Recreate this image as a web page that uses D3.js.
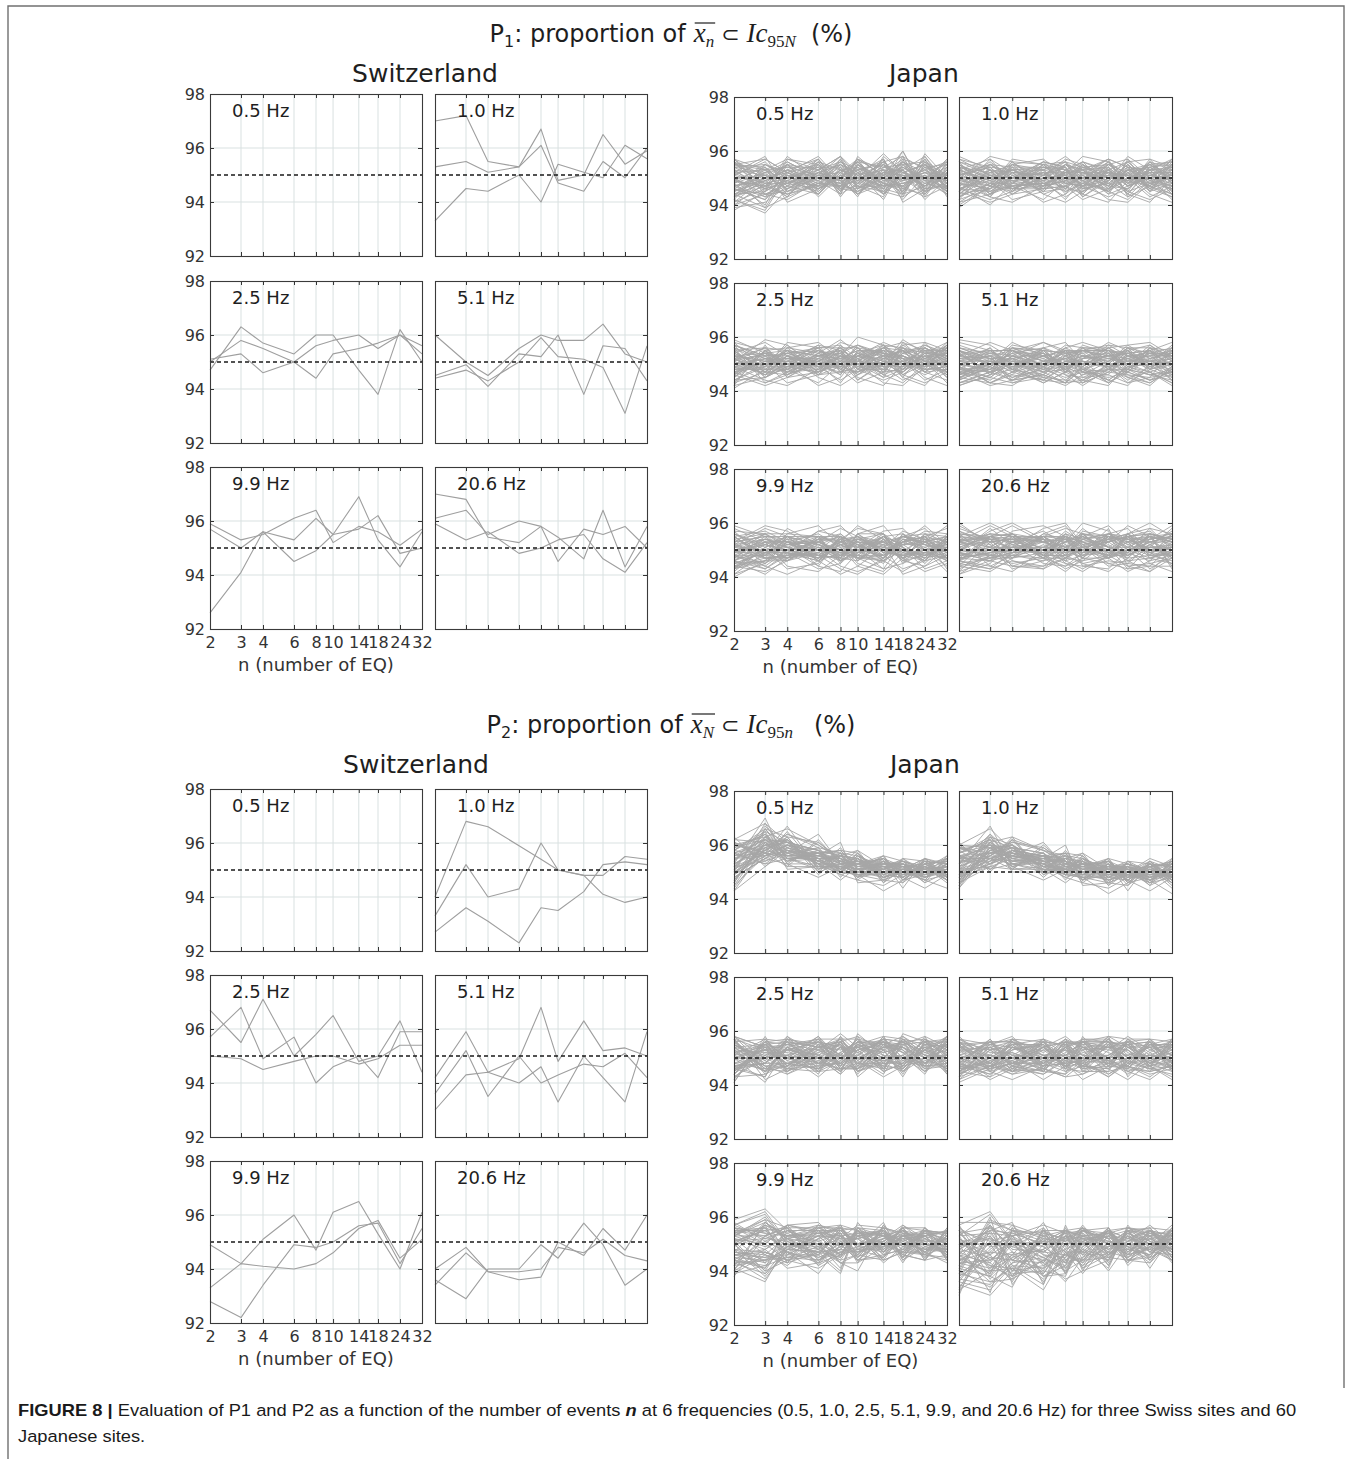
<!DOCTYPE html>
<html>
<head>
<meta charset="utf-8">
<script src="https://cdn.jsdelivr.net/npm/d3@7"></script>
<style>
  body { margin: 0; background: #fff; }
  svg { display: block; }
</style>
</head>
<body>
<svg id="fig" width="1356" height="1459"></svg>
<script>
// ---- axis values ----
const nTicks = [2, 3, 4, 6, 8, 10, 14, 18, 24, 32];
const yTicks = [92, 94, 96, 98];
const freqLabels = ["0.5 Hz", "1.0 Hz", "2.5 Hz", "5.1 Hz", "9.9 Hz", "20.6 Hz"];
const targetLevel = 95;

// ---- Swiss sites (3 sites), percent, one value per n ----
const ch_p1_05 = [];
const ch_p1_10 = [
  [97.0, 97.2, 95.5, 95.3, 96.7, 94.8, 95.0, 96.5, 95.4, 95.9],
  [95.3, 95.5, 95.1, 95.3, 96.1, 94.7, 94.4, 95.5, 94.9, 96.0],
  [93.3, 94.5, 94.4, 95.0, 94.0, 95.4, 95.1, 94.9, 96.1, 95.6]
];
const ch_p1_25 = [
  [94.7, 96.3, 95.7, 95.3, 96.0, 96.0, 94.7, 93.8, 96.2, 95.0],
  [95.0, 95.8, 95.5, 95.0, 95.6, 95.8, 96.0, 95.5, 96.0, 95.6],
  [95.1, 95.3, 94.6, 95.0, 94.4, 95.3, 95.5, 95.7, 96.0, 95.3]
];
const ch_p1_51 = [
  [96.0, 95.0, 94.5, 95.5, 96.0, 95.8, 95.8, 96.4, 95.3, 95.0],
  [94.5, 94.9, 94.1, 95.3, 95.2, 96.0, 93.8, 95.6, 95.5, 94.3],
  [94.4, 94.7, 94.3, 95.0, 95.9, 95.2, 95.1, 94.8, 93.1, 95.6]
];
const ch_p1_99 = [
  [95.9, 95.3, 95.5, 96.1, 96.4, 95.2, 95.8, 95.6, 95.1, 95.7],
  [95.7, 95.0, 95.6, 95.3, 96.1, 95.5, 96.9, 95.3, 94.3, 95.6],
  [92.6, 94.1, 95.6, 94.5, 94.9, 95.5, 95.7, 96.2, 94.8, 95.0]
];
const ch_p1_206 = [
  [97.0, 96.8, 95.4, 95.2, 95.8, 95.4, 94.6, 96.4, 94.3, 95.8],
  [96.1, 96.4, 95.5, 96.0, 95.8, 94.5, 95.7, 95.5, 95.8, 95.0],
  [95.9, 95.3, 95.6, 94.8, 95.0, 95.3, 95.5, 94.6, 94.1, 95.2]
];
const ch_p2_05 = [];
const ch_p2_10 = [
  [94.0, 96.8, 96.6, 95.9, 95.4, 95.0, 94.8, 94.1, 93.8, 94.0],
  [93.3, 95.2, 94.0, 94.3, 96.0, 95.0, 94.8, 94.8, 95.5, 95.4],
  [92.7, 93.6, 93.1, 92.3, 93.6, 93.5, 94.2, 95.2, 95.3, 95.2]
];
const ch_p2_25 = [
  [96.7, 95.5, 97.1, 95.0, 95.8, 96.5, 94.8, 95.0, 96.3, 94.4],
  [95.7, 96.8, 94.9, 95.7, 94.0, 94.6, 95.0, 94.2, 95.9, 95.9],
  [95.0, 94.9, 94.5, 94.8, 95.0, 95.0, 94.7, 94.9, 95.4, 95.4]
];
const ch_p2_51 = [
  [94.2, 95.9, 94.4, 94.9, 96.8, 94.8, 96.3, 95.2, 95.3, 95.0],
  [93.6, 95.2, 93.5, 95.0, 94.0, 94.3, 94.7, 94.6, 95.1, 94.2],
  [93.0, 94.3, 94.4, 94.0, 94.6, 93.3, 95.0, 94.2, 93.3, 95.9]
];
const ch_p2_99 = [
  [94.9, 94.2, 95.1, 96.0, 94.7, 96.1, 96.5, 95.3, 94.0, 96.1],
  [93.3, 94.2, 94.1, 94.0, 94.2, 94.6, 95.5, 95.8, 94.4, 95.1],
  [92.8, 92.2, 93.4, 94.9, 94.8, 95.0, 95.6, 95.7, 94.2, 95.5]
];
const ch_p2_206 = [
  [94.0, 94.8, 93.9, 93.6, 93.7, 95.0, 94.5, 95.5, 94.7, 96.0],
  [93.6, 92.9, 94.0, 94.0, 94.9, 94.4, 95.7, 94.9, 93.4, 94.0],
  [93.4, 94.6, 93.9, 93.9, 94.0, 94.8, 94.6, 95.1, 94.5, 94.3]
];

// ---- Japanese sites (60 sites); each row is one site, values in tenths of a percent ----
const jp_p1_05 = [
"957 953 948 951 958 946 955 949 952 947","944 939 952 947 950 956 948 960 945 953","951 948 943 955 946 952 957 944 959 950",
"938 945 950 944 953 949 945 952 947 955","955 957 952 958 949 944 951 956 950 946","947 950 955 949 944 958 950 947 954 951",
"942 937 946 952 955 947 943 955 949 944","953 946 958 950 947 953 956 941 946 957","949 954 941 946 951 945 949 953 958 948",
"946 942 949 956 943 951 947 958 944 952","956 951 955 945 952 957 944 950 953 949","940 944 948 953 958 950 953 946 951 945",
"952 958 945 948 950 943 958 952 947 954","945 949 953 957 946 955 946 944 955 950","950 943 951 944 954 948 952 957 943 947",
"943 947 956 950 948 954 949 951 950 956","954 952 944 947 957 946 955 945 956 943","948 955 950 954 945 952 942 954 948 951",
"939 941 947 951 952 949 951 960 945 948","957 949 953 946 950 956 947 948 952 955","946 944 942 949 955 951 953 943 957 946",
"951 956 948 952 946 947 956 950 944 952","944 948 955 943 951 953 948 956 949 957","953 945 950 957 948 945 950 947 954 949",
"947 951 946 950 956 950 944 953 942 950","942 938 951 946 950 957 951 949 951 945","955 953 957 953 944 948 957 944 947 953",
"949 946 944 948 953 954 946 955 956 948","941 950 952 955 947 946 952 951 950 944","956 947 949 947 955 952 948 946 944 956",
"945 952 954 951 949 944 954 958 953 947","950 944 947 944 952 956 945 943 948 951","943 949 943 956 946 950 959 952 955 946",
"954 955 951 949 957 947 947 947 943 954","948 940 955 953 945 955 950 954 950 949","952 946 948 946 951 949 956 949 957 945",
"946 953 945 950 948 953 944 956 946 952","940 948 950 954 954 946 951 942 951 948","955 950 953 947 947 957 953 951 947 955",
"947 943 946 952 950 948 946 957 954 944","951 957 952 948 956 951 955 948 949 950","944 945 957 955 944 955 949 953 945 953",
"953 951 949 945 953 944 952 945 958 946","949 947 944 951 949 950 947 950 952 951","942 954 947 957 945 956 954 955 946 947",
"957 946 955 944 952 947 945 952 950 954","945 950 950 953 958 952 950 944 955 948","950 939 943 948 947 949 956 958 944 952",
"948 952 956 950 950 954 948 947 951 945","954 948 948 955 946 945 953 953 947 950","943 955 952 946 953 951 946 949 953 956",
"956 944 945 952 949 957 951 954 949 947","947 949 951 949 954 948 957 946 956 951","952 953 954 954 945 952 944 951 945 953",
"941 946 949 947 951 946 950 956 952 949","950 951 946 953 956 953 955 950 948 946","946 942 953 950 948 944 948 945 954 955",
"955 954 947 956 953 950 952 953 946 948","949 947 952 948 947 955 947 948 950 952","944 950 950 952 955 949 954 952 955 949"
];
const jp_p1_10 = [
"957 954 947 942 949 956 953 944 941 950","942 946 955 957 951 944 941 949 956 953","950 958 956 948 943 947 955 957 950 942",
"945 941 944 951 957 955 948 943 947 956","955 949 942 945 952 958 956 951 944 941","941 944 950 956 954 947 943 946 953 957",
"953 957 952 944 941 945 951 956 957 948","948 943 941 947 953 956 952 945 942 946","956 951 946 950 955 949 942 941 948 955",
"943 948 957 955 947 942 946 953 955 951","951 955 949 941 944 952 957 954 946 943","946 942 945 953 958 953 945 942 949 957",
"958 953 944 946 950 943 949 958 953 944","940 947 953 949 942 950 956 950 943 947","954 944 948 955 956 951 944 947 957 954",
"945 957 948 946 955 950 952 947 953 953","953 949 956 955 948 947 949 955 948 944","939 947 945 949 952 953 957 943 951 950",
"948 953 950 952 945 948 945 952 946 955","955 945 947 948 951 955 950 949 955 949","946 950 953 954 954 944 953 956 949 946",
"951 954 946 946 947 951 947 946 952 952","944 946 952 951 956 946 952 951 947 957","957 951 949 947 949 952 948 953 954 947",
"950 943 955 953 944 949 956 948 950 951","943 948 944 950 951 954 944 954 945 954","952 955 951 945 953 947 951 945 956 948",
"947 940 948 956 948 950 955 952 948 950","954 952 953 949 955 953 946 950 953 945","941 948 946 952 946 945 953 947 951 953",
"949 956 950 947 952 952 949 955 946 949","956 944 954 954 950 948 954 948 955 956","946 951 947 948 947 955 946 953 949 947",
"951 947 952 951 954 943 950 949 952 952","945 953 945 955 949 951 957 954 947 944","953 949 955 946 953 946 948 946 954 950",
"948 946 949 950 946 954 952 951 950 955","942 954 953 953 951 949 945 957 945 948","955 950 946 947 955 952 950 944 953 951",
"950 945 951 952 948 947 955 950 948 946","944 952 948 949 952 956 947 953 951 954","953 948 954 944 947 950 953 948 956 949",
"947 955 950 956 954 945 949 955 946 952","952 944 947 951 950 953 954 947 950 947","946 949 953 948 945 948 946 952 954 955",
"956 953 945 954 953 952 952 945 948 950","949 947 956 947 949 946 948 954 952 944","943 951 950 953 956 954 955 949 947 953",
"951 954 946 950 951 949 951 951 955 948","948 946 952 945 946 951 947 956 949 951","954 950 949 952 952 947 953 948 953 946",
"945 955 954 949 948 955 950 953 946 953","950 948 948 955 953 950 945 950 951 949","953 943 951 946 947 944 954 944 954 956",
"947 952 955 951 955 953 949 955 948 950","952 949 947 948 950 948 952 949 952 945","944 953 952 953 946 952 947 952 945 952",
"955 947 946 950 954 946 956 947 950 948","949 951 953 947 949 954 950 954 953 954","946 945 950 954 952 950 951 951 947 943"
];
const jp_p1_25 = [
"958 955 948 943 950 957 954 945 942 951","943 947 956 958 952 945 942 950 957 954","951 959 957 949 944 948 956 958 951 943",
"946 942 945 952 958 956 949 944 948 957","956 950 943 946 953 960 957 952 945 942","942 945 951 957 955 948 944 947 954 958",
"954 958 953 945 942 946 952 957 958 949","949 944 942 948 954 957 953 946 943 947","957 952 947 951 956 950 943 942 949 956",
"944 949 958 956 948 943 947 954 956 952","952 956 950 942 945 953 958 955 947 944","947 943 946 954 959 954 946 943 950 958",
"959 954 945 947 951 944 950 959 954 945","941 948 954 950 943 951 957 951 944 948","955 945 949 956 957 952 945 948 958 955",
"942 957 946 951 956 956 947 957 952 957","952 946 953 956 947 947 952 945 955 947","957 953 948 949 953 953 956 950 949 953",
"948 949 955 953 949 950 945 955 951 950","945 955 950 946 955 944 951 948 954 955","955 947 946 950 946 955 954 953 947 948",
"950 952 954 955 951 951 949 949 956 952","944 945 949 947 957 948 957 956 950 946","953 954 952 952 948 954 950 947 953 954",
"949 950 957 948 953 946 953 952 948 949","956 943 947 954 950 952 946 958 955 956","946 951 951 950 955 957 952 951 949 951",
"951 956 955 946 947 949 955 946 952 945","958 948 948 953 952 953 948 954 957 953","947 953 953 949 949 947 951 950 946 950",
"952 946 950 956 956 951 956 955 951 957","943 955 945 951 946 955 947 948 954 948","954 949 956 947 953 950 953 953 950 952",
"949 952 949 952 950 946 950 951 947 955","955 947 952 955 948 954 957 947 955 949","946 954 947 948 955 949 949 956 949 954",
"950 950 954 950 951 956 954 952 953 946","957 945 951 957 947 952 946 949 956 951","952 953 946 953 954 948 952 955 948 956",
"948 948 953 946 949 953 955 950 952 950","945 955 950 951 956 950 948 953 950 947","953 951 955 949 952 955 953 948 954 953",
"950 946 948 954 948 947 950 955 947 952","956 952 952 950 953 951 956 951 953 949","947 949 949 947 950 954 951 946 950 955",
"951 954 955 953 955 949 947 954 955 951","944 950 951 949 947 952 954 950 948 948","955 956 948 955 951 956 949 956 952 954",
"949 947 953 951 954 950 955 949 956 950","953 951 950 948 949 953 952 953 949 957","946 955 956 954 955 948 948 947 953 952",
"952 948 949 950 952 955 955 954 951 947","957 953 954 956 948 951 950 951 955 955","948 950 947 952 954 947 954 948 950 951",
"951 946 953 949 950 954 951 956 954 953","945 952 951 953 956 950 956 952 948 949","954 949 955 947 951 956 949 950 952 956",
"950 954 950 955 953 949 953 955 956 952","947 951 952 951 949 953 950 949 951 954","953 947 948 953 955 952 955 953 949 950"
];
const jp_p1_51 = [
"944 949 956 954 946 942 948 955 957 951","956 952 943 945 951 957 954 946 943 948","949 943 947 956 958 951 944 942 950 957",
"958 955 950 944 943 949 956 957 952 944","942 946 953 958 955 947 943 948 956 953","953 958 955 949 944 943 950 956 954 945",
"947 942 944 951 957 956 949 943 945 955","955 950 957 955 948 944 942 950 957 952","943 945 951 947 943 952 958 955 947 942",
"951 956 948 943 947 955 953 945 942 949","957 953 944 946 953 950 943 947 955 958","945 948 955 958 954 945 946 954 950 944",
"950 943 942 949 956 958 955 948 944 947","959 957 952 945 942 946 951 957 958 953","946 951 958 953 949 943 947 952 955 946",
"953 950 954 954 950 956 955 948 946 948","949 945 951 950 955 947 948 953 954 954","955 952 948 956 947 953 954 950 951 950",
"950 948 955 949 952 951 950 956 948 955","944 955 950 952 948 955 955 947 955 949","952 951 947 955 954 948 947 954 950 952",
"948 947 953 948 951 953 952 951 953 947","956 954 950 953 955 950 949 953 949 954","951 949 956 951 949 956 956 949 956 951",
"946 952 948 946 953 948 951 955 951 956","954 946 952 954 947 952 953 952 948 950","949 955 955 949 955 955 948 948 954 953",
"955 951 949 953 950 949 955 954 950 948","947 948 953 950 956 953 950 951 955 952","952 953 951 956 951 950 957 956 952 955",
"945 950 954 947 954 955 952 950 947 950","953 955 948 953 948 951 949 953 953 953","950 947 955 951 952 947 954 949 950 947",
"956 952 952 948 955 953 951 956 956 955","948 949 946 955 949 950 956 952 949 951","952 954 953 950 953 956 950 947 952 954",
"946 951 950 954 950 952 953 954 955 949","955 946 956 952 956 949 955 951 951 952","951 953 949 949 952 954 948 955 948 956",
"947 950 952 955 947 950 953 950 954 950","954 955 955 951 954 955 957 953 951 953","950 948 950 947 951 951 950 948 956 948",
"953 952 953 953 955 948 954 955 949 951","949 956 947 950 950 953 951 952 953 955","955 949 954 956 953 955 955 949 950 952",
"951 951 951 948 949 950 952 954 955 949","948 954 956 955 954 952 956 951 952 954","954 947 949 951 952 955 953 955 948 951",
"950 953 955 953 948 951 949 950 954 956","946 950 952 949 955 954 955 953 951 950","945 943 947 944 949 946 948 947 944 946",
"943 947 944 946 943 948 944 949 947 943","947 944 949 943 947 944 950 945 943 948","944 949 945 948 945 947 946 943 948 945",
"948 945 943 947 948 943 947 946 945 947","942 946 948 945 944 949 943 948 946 944","946 948 944 949 946 945 949 944 949 946",
"949 943 946 944 950 947 945 947 944 949","943 947 950 946 943 944 948 945 947 943","945 950 945 950 947 948 944 949 946 947"
];
const jp_p1_99 = [
"952 958 955 946 941 944 951 957 954 943","941 945 950 957 959 953 946 942 947 955","958 953 944 942 948 956 959 951 943 946",
"946 941 947 954 956 950 943 945 953 959","955 957 953 948 943 941 947 955 958 950","943 948 956 959 952 945 942 949 956 953",
"950 944 941 946 954 958 956 947 942 945","959 955 949 943 945 951 957 958 950 942","944 942 946 953 958 955 948 943 946 954",
"953 959 957 950 944 942 946 952 957 956","940 946 953 956 951 944 941 947 955 958","956 950 943 945 953 959 954 946 944 948",
"948 943 949 957 955 947 943 953 959 952","957 956 951 944 942 949 955 956 950 944","945 949 958 952 947 954 952 941 944 951",
"949 954 952 950 956 951 950 952 953 947","943 946 955 955 945 956 956 945 949 954","956 952 950 947 952 948 948 955 956 950",
"948 948 947 952 948 954 953 950 946 955","953 955 954 944 955 950 945 954 953 948","946 943 948 951 950 947 955 948 950 952",
"951 956 956 955 946 955 949 953 955 946","944 950 951 949 953 949 952 946 948 953","957 947 946 953 949 952 946 956 952 949",
"950 953 953 946 955 946 954 951 946 955","945 949 949 954 947 956 950 947 954 950","953 955 955 950 952 951 947 954 951 947",
"948 944 950 947 948 948 955 949 947 954","942 951 947 955 955 953 951 955 953 951","955 948 953 952 950 947 946 950 949 948",
"947 954 951 948 954 955 953 946 956 955","952 947 948 954 946 950 948 953 950 946","946 952 955 946 952 954 956 951 945 953",
"954 949 946 951 949 949 950 948 953 949","949 956 952 953 955 952 947 956 948 956","944 946 949 948 947 946 954 949 955 947",
"956 951 954 955 953 955 949 954 950 952","950 947 947 950 948 951 955 947 954 949","943 953 953 947 954 947 948 952 947 955",
"952 949 950 953 950 953 952 955 952 950","947 955 946 949 946 950 956 948 949 947","955 948 952 954 953 954 950 953 955 953",
"949 952 949 946 949 948 946 950 948 950","944 947 955 952 955 952 953 955 952 954","951 954 951 948 947 956 949 948 946 948",
"946 950 947 955 952 949 955 952 954 952","953 945 953 950 949 953 951 947 950 946","948 953 949 947 955 947 947 954 953 955",
"941 949 952 953 948 950 953 949 948 951","954 956 948 949 953 955 950 953 955 947","947 948 954 951 946 948 954 946 951 953",
"950 952 950 947 951 952 948 951 947 949","945 946 946 954 954 946 952 955 954 954","952 954 953 950 947 954 949 948 949 950",
"949 949 949 946 953 951 955 952 952 946","943 951 955 952 949 947 951 950 946 953","955 947 948 948 952 953 947 953 955 949",
"946 953 951 955 946 949 953 947 950 951","951 950 947 949 954 952 948 955 953 955","948 945 953 953 950 950 955 950 948 947"
];
const jp_p1_206 = [
"947 955 959 953 945 942 948 956 958 950","959 953 944 943 950 957 955 946 942 947","942 946 951 958 960 952 945 943 951 958",
"955 960 956 948 943 946 953 959 955 944","944 942 947 955 958 956 947 942 946 953","957 951 943 946 953 960 957 950 943 948",
"950 957 960 954 946 943 948 956 960 955","941 945 953 957 952 945 942 947 954 959","958 954 946 943 947 955 959 953 945 942",
"946 943 949 956 959 951 944 945 952 957","953 959 955 947 942 947 956 958 949 945","960 952 944 944 951 958 951 943 944 952",
"943 948 957 959 955 944 943 950 958 956","954 944 942 950 957 953 947 955 956 943","949 958 952 945 944 949 958 944 942 950",
"950 954 953 947 955 951 953 955 953 953","947 949 950 954 951 947 947 950 947 949","953 955 956 950 946 954 955 953 955 956",
"941 948 947 956 954 949 950 946 951 952","955 953 954 948 948 956 953 955 948 948","949 947 949 953 955 950 948 949 956 954",
"952 956 955 955 950 947 956 954 950 951","946 950 951 949 953 955 951 948 953 955","956 954 947 952 947 952 947 956 947 950",
"951 948 953 947 956 948 954 951 955 953","944 955 950 955 949 953 950 955 949 948","954 951 956 950 953 950 955 950 954 956",
"949 946 948 954 948 956 949 953 951 951","957 953 954 948 955 949 952 947 956 954","947 949 951 953 951 954 956 955 948 949",
"953 956 955 947 947 951 948 950 953 955","950 950 949 955 954 947 955 954 950 952","946 954 953 951 950 955 951 949 955 947",
"955 948 950 949 956 952 954 956 952 954","951 955 956 954 948 950 947 951 949 951","948 951 948 950 953 956 955 954 954 955",
"956 947 954 955 951 948 950 948 951 949","942 953 951 948 955 953 953 955 956 953","953 950 955 953 949 951 956 951 948 956",
"950 956 949 950 954 955 949 953 953 950","947 949 953 955 950 949 954 949 955 953","954 954 950 951 956 954 951 956 950 948",
"949 951 956 948 948 950 956 952 954 955","956 955 952 954 953 956 948 955 949 951","945 947 949 950 950 951 953 948 952 947",
"952 953 954 955 955 947 955 953 956 954","948 950 950 949 949 954 950 950 951 950","955 954 955 953 954 952 954 956 948 956",
"950 948 948 947 951 955 951 951 955 952","946 955 953 954 947 950 955 954 950 949","953 951 951 951 955 953 949 949 953 955",
"949 946 955 948 952 948 953 955 957 951","954 952 949 955 948 954 956 952 949 954","947 949 952 950 954 951 948 948 952 948",
"951 955 954 953 950 956 954 954 955 953","944 947 947 949 946 948 949 947 948 946","946 944 948 946 948 945 947 949 946 948",
"948 948 945 947 944 947 945 946 947 945","945 943 946 944 947 946 948 944 945 947","947 946 944 948 945 944 946 945 944 944"
];
const jp_p2_05 = [
"962 968 961 958 951 955 949 953 948 951","948 955 963 950 957 948 954 946 952 947","955 961 952 962 953 958 946 951 955 953",
"943 952 958 953 949 951 952 948 944 949","958 966 955 956 961 946 947 955 950 955","951 957 967 951 954 953 955 950 947 944",
"946 963 956 959 950 949 943 947 953 950","960 958 962 954 956 955 950 952 949 952","953 970 953 948 952 950 954 944 955 948",
"949 956 960 957 958 957 948 950 951 956","957 962 957 953 947 952 953 953 946 950","944 959 964 960 955 947 945 949 952 946",
"961 954 959 955 951 956 951 955 948 953","952 965 951 952 959 951 956 947 954 949","947 960 957 964 953 954 948 951 950 951",
"956 957 962 949 956 958 952 954 947 955","950 968 955 957 950 949 949 948 953 947","963 952 960 954 954 952 955 952 951 952",
"945 961 954 958 948 955 947 946 955 949","958 956 965 951 957 950 953 953 948 953","954 964 958 956 952 953 950 950 952 950",
"948 955 953 961 955 948 955 947 949 954","959 962 961 953 950 957 946 955 954 948","951 958 956 957 958 951 952 949 950 951",
"946 966 963 950 953 954 949 952 946 956","957 953 955 955 949 947 954 948 953 949","953 960 960 958 956 955 951 954 951 952",
"961 957 952 952 952 950 948 951 948 950","949 963 966 960 954 953 955 947 954 947","955 956 958 954 951 949 952 953 950 953",
"943 959 954 957 957 956 947 950 947 955","958 965 961 953 953 951 953 952 952 950","952 954 957 959 950 954 950 949 955 948",
"947 961 962 955 955 950 956 954 949 952","960 957 955 952 952 957 949 951 951 954","954 967 959 956 958 952 952 948 953 949",
"950 958 963 961 954 948 954 952 948 951","956 962 956 954 950 955 948 950 954 953","945 956 960 957 953 953 951 953 950 950",
"959 964 953 953 956 950 955 949 952 955","953 959 961 958 951 956 950 951 947 949","948 955 958 955 955 952 953 954 951 952",
"962 961 955 951 953 949 947 950 954 948","955 958 964 959 957 954 952 952 949 951","951 966 957 954 952 951 954 948 953 954",
"957 953 959 956 954 955 949 953 950 950","949 960 962 952 950 950 951 950 948 953","960 963 956 957 955 953 956 947 952 949",
"952 957 960 953 952 948 950 951 955 952","946 962 954 955 956 954 953 953 951 947","956 959 961 958 953 951 948 950 949 951",
"950 956 958 954 951 956 952 952 953 954","958 964 955 956 955 953 955 949 950 950","953 958 962 952 952 950 950 954 952 948",
"947 961 957 957 954 952 953 951 948 952","961 955 960 955 950 955 949 948 954 953","954 963 959 953 956 951 951 953 951 949",
"949 957 956 956 953 954 954 950 950 951","957 960 961 954 957 949 950 952 953 955","952 962 958 957 951 953 952 951 949 950"
];
const jp_p2_10 = [
"960 966 958 956 951 955 948 952 946 950","946 952 962 950 957 947 953 945 951 944","955 960 951 960 953 957 945 950 955 952",
"948 955 957 952 948 950 952 947 943 948","957 963 954 955 960 945 946 954 950 954","950 954 963 949 953 953 954 949 947 942",
"944 961 955 957 949 948 942 946 953 949","959 957 960 953 955 954 950 951 948 951","953 967 952 947 951 949 953 943 954 947",
"949 953 958 956 957 956 947 950 950 955","956 959 955 951 946 951 952 952 945 949","945 958 961 958 954 946 944 948 952 945",
"958 951 957 954 950 955 951 954 947 953","951 962 950 950 958 950 955 946 953 948","947 957 956 961 952 953 947 950 949 950",
"955 955 959 948 955 957 951 953 946 954","949 964 953 955 949 948 948 947 952 946","961 950 958 952 953 951 954 951 950 951",
"946 959 952 956 947 954 946 945 954 948","956 953 962 950 956 949 952 952 947 952","952 961 956 954 951 952 949 949 951 949",
"948 952 951 959 954 947 954 946 948 953","957 960 959 952 949 956 945 954 953 947","950 956 954 955 957 950 951 948 949 950",
"945 963 960 949 952 953 948 951 945 955","955 951 953 953 948 946 953 947 952 948","953 958 957 956 955 954 950 953 950 951",
"959 955 951 951 951 949 947 950 947 949","948 961 963 958 953 952 954 946 953 946","954 954 956 953 950 948 951 952 949 952",
"944 957 952 955 956 955 946 949 946 954","957 962 959 952 952 950 952 951 951 949","951 952 955 957 949 953 949 948 954 947",
"947 959 960 954 954 949 955 953 948 951","959 955 953 951 951 956 948 950 950 953","953 964 957 955 957 951 951 947 952 948",
"949 956 961 959 953 947 953 951 947 950","955 960 954 953 949 954 947 949 953 952","946 954 958 956 952 952 950 952 949 949",
"958 961 951 952 955 949 954 948 951 954","952 957 959 957 950 955 949 950 946 948","947 953 956 954 954 951 952 953 950 951",
"960 959 953 950 952 948 946 949 953 947","954 956 962 958 956 953 951 951 948 950","950 963 955 953 951 950 953 947 952 953",
"956 951 957 955 953 954 948 952 949 949","948 958 960 951 949 949 950 949 947 952","959 960 954 956 954 952 955 946 951 948",
"951 955 958 952 951 947 949 950 954 951","946 959 952 954 955 953 952 952 950 946","955 957 959 957 952 950 947 949 948 950",
"949 953 956 953 950 955 951 951 952 953","957 962 953 955 954 952 954 948 949 949","952 956 960 951 951 949 949 953 951 947",
"947 958 955 956 953 951 952 950 947 951","960 953 958 954 949 954 948 947 953 952","953 960 957 952 955 950 950 952 950 948",
"948 955 954 955 952 953 953 949 949 950","956 957 959 953 956 948 949 951 952 954","951 959 956 956 950 952 951 950 948 949"
];
const jp_p2_25 = [
"955 948 957 950 944 959 951 946 953 949","944 955 947 957 951 946 956 952 945 956","958 950 953 944 958 952 946 957 950 946",
"947 943 958 951 947 955 953 943 956 952","941 957 949 946 954 945 949 950 947 958","956 949 945 955 945 951 957 956 952 950",
"950 941 954 948 956 949 943 947 958 944","945 954 950 958 950 956 952 954 948 954","954 947 944 949 946 947 958 947 955 947",
"949 956 955 953 959 954 950 951 944 957","943 951 946 945 952 944 955 958 951 951","957 945 953 956 948 958 945 948 957 945",
"951 953 948 950 944 950 954 955 948 955","946 943 957 954 955 945 948 945 954 948","955 950 951 943 950 953 956 953 945 953",
"941 958 945 951 957 957 946 958 953 958","953 945 954 957 946 946 953 944 956 946","958 954 947 948 954 954 957 950 948 954",
"947 948 956 954 948 950 944 956 951 950","944 956 950 945 956 943 951 947 955 956","956 946 945 950 945 956 955 954 946 947",
"950 953 955 956 951 951 948 948 957 953","943 944 948 946 958 947 958 957 950 945","954 955 953 953 947 955 950 946 954 955",
"948 950 958 947 954 945 954 953 947 948","957 942 946 955 950 953 945 959 956 957","945 952 952 950 956 958 953 950 948 951",
"951 957 956 945 946 948 956 945 953 944","958 947 947 954 953 954 947 955 958 954","946 954 954 948 948 946 951 950 945 950",
"953 945 950 957 957 951 957 956 951 958","942 956 944 951 945 956 946 947 955 947","955 949 957 946 954 950 954 954 950 953",
"948 953 948 953 950 945 950 951 946 956","956 946 953 956 947 955 958 946 956 948","945 955 946 947 956 948 948 957 948 955",
"950 950 955 950 951 957 955 952 954 945","957 944 951 958 946 953 945 948 957 951","952 954 945 953 955 947 953 956 947 957",
"947 948 954 945 949 954 956 949 953 950","944 956 950 952 957 950 947 954 950 946","954 951 956 948 952 956 954 947 955 954",
"950 945 947 955 946 946 950 956 946 952","957 953 953 950 954 952 957 950 954 948","946 948 948 946 949 955 951 945 950 956",
"952 955 956 954 956 948 946 955 956 951","943 950 951 948 946 953 955 949 947 947","956 957 947 956 951 957 948 957 952 955",
"948 946 954 951 955 949 956 948 957 950","953 952 950 947 948 954 952 954 948 958","945 956 957 955 956 947 947 946 954 952",
"952 947 948 949 952 956 956 955 951 946","958 954 955 957 947 950 949 951 956 956","947 950 946 952 955 946 955 947 949 951",
"951 945 954 948 950 955 950 957 955 954","944 953 951 954 957 949 957 952 947 948","955 948 956 946 951 957 948 949 953 957",
"950 955 949 956 954 948 954 956 957 953","946 951 953 951 948 954 949 948 950 955","954 946 947 954 956 952 956 954 948 949"
];
const jp_p2_51 = [
"948 956 951 945 954 950 958 943 952 947","956 947 945 954 946 956 950 953 945 955","943 953 955 948 956 945 945 957 951 950",
"953 945 948 956 950 953 954 947 956 945","946 955 958 946 944 958 947 954 948 954","957 950 946 953 953 947 956 946 955 951",
"950 943 954 950 957 951 951 955 946 957","944 954 950 956 947 954 946 950 954 946","954 948 956 945 955 946 955 945 950 953",
"947 957 947 951 951 956 948 956 957 948","955 946 953 955 945 950 957 951 947 956","942 951 957 947 954 945 953 958 953 950",
"951 956 948 954 958 953 944 948 956 946","958 948 954 951 948 955 954 953 948 954","945 954 945 946 954 948 950 956 954 951",
"954 950 955 955 950 957 956 947 945 947","948 944 951 950 956 946 947 954 955 955","956 953 947 957 946 954 955 950 951 949",
"950 947 956 948 953 951 949 957 947 956","943 956 950 953 947 956 956 946 956 948","953 951 946 956 955 947 946 955 949 953",
"947 946 954 947 951 954 953 951 954 946","957 955 950 954 956 949 948 954 948 955","951 948 957 951 948 957 957 948 957 951",
"945 953 947 945 954 947 951 956 950 957","955 945 953 955 946 953 954 953 947 949","949 956 956 948 956 956 947 947 955 954",
"956 951 948 954 949 948 956 955 949 947","946 947 954 950 957 954 949 950 956 953","953 954 951 957 951 949 958 957 952 956",
"944 950 955 946 955 956 952 949 946 949","954 956 947 954 947 950 948 954 954 954","950 946 956 951 953 946 955 948 950 946",
"957 952 952 947 956 954 950 957 957 956","947 948 945 956 948 949 957 952 948 951","952 955 954 949 954 957 949 946 953 955",
"945 951 949 955 949 952 954 955 956 948","956 945 957 952 957 948 956 950 950 952","951 954 948 948 952 955 947 956 947 957",
"946 949 953 956 946 949 954 949 955 949","955 956 956 950 955 956 958 954 950 954","949 947 949 946 950 950 949 947 957 947",
"954 953 954 954 956 947 955 956 948 951","948 957 946 949 949 954 950 951 954 956","956 948 955 957 954 956 956 948 949 952",
"950 951 950 947 948 949 951 955 956 948","947 955 957 956 955 951 957 950 951 955","955 946 948 950 951 956 954 956 947 950",
"950 954 956 954 947 950 948 949 955 957","944 949 952 948 956 955 956 954 950 949","945 943 947 944 949 946 948 947 944 946",
"943 947 944 946 943 948 944 949 947 943","947 944 949 942 947 944 950 945 942 948","944 949 945 948 945 947 946 942 948 945",
"948 945 942 947 948 942 947 946 945 947","941 946 948 945 944 949 943 948 946 944","946 948 944 949 946 945 949 944 949 946",
"949 942 946 944 950 947 945 947 943 949","942 947 950 946 943 944 948 945 947 942","945 950 945 950 947 948 943 949 946 947"
];
const jp_p2_99 = [
"957 962 951 946 955 949 958 944 952 947","944 937 948 953 946 955 950 952 945 955","951 955 956 942 953 944 945 957 950 949",
"939 946 943 957 949 952 954 946 956 944","953 960 950 947 940 958 947 953 947 953","946 943 955 951 954 946 956 945 954 950",
"958 951 947 939 950 950 951 955 944 956","942 957 952 955 945 953 943 949 953 945","950 940 944 948 957 945 955 944 949 952",
"955 953 957 944 948 955 948 956 956 947","947 945 946 952 943 940 957 950 946 955","940 958 953 956 956 948 952 957 952 949",
"952 948 941 943 951 952 944 947 955 944","959 963 955 950 946 954 953 952 947 953","944 942 949 954 953 947 950 955 953 950",
"949 956 945 946 939 956 955 946 944 946","954 950 957 958 950 944 946 953 955 954","941 936 950 947 955 953 954 949 950 948",
"956 954 953 942 947 949 949 956 946 955","948 947 943 955 952 957 956 945 956 947","953 959 956 949 944 946 944 954 948 952",
"945 944 948 953 956 950 953 950 953 945","957 952 951 945 949 955 947 953 947 954","943 939 946 956 953 943 957 947 956 950",
"950 957 954 948 945 956 950 956 944 956","955 946 942 952 957 948 945 952 951 946","938 953 956 944 947 953 955 945 955 953",
"952 943 949 957 954 945 951 955 949 948","947 958 952 950 941 955 946 948 952 955","956 950 944 946 956 950 956 954 946 944",
"944 941 957 955 950 944 952 951 954 952","951 955 947 943 946 956 947 956 948 947","946 948 953 954 955 949 954 943 955 954",
"957 961 950 949 944 953 949 950 950 946","942 944 945 944 951 946 956 954 945 951","953 953 956 956 957 955 944 947 953 955",
"948 938 948 947 948 947 951 955 947 943","955 956 953 953 953 954 955 949 955 954","940 947 944 941 946 948 948 953 950 948",
"951 952 955 955 955 956 953 946 944 953","946 945 950 948 943 943 949 954 953 946","954 959 946 952 954 952 955 951 947 955",
"943 944 952 946 950 955 946 948 956 949","952 950 957 954 956 949 953 955 951 952","949 957 943 947 945 953 950 947 946 945",
"945 941 951 953 952 945 956 953 954 954","956 954 947 944 949 954 947 950 948 948","941 948 954 957 955 950 952 956 955 951",
"950 939 949 950 943 946 954 945 949 947","954 956 946 946 956 955 948 953 953 955","947 946 953 955 947 947 955 949 946 949",
"939 942 945 949 952 952 945 954 952 946","953 958 952 943 954 944 951 947 947 953","948 944 947 953 946 954 954 951 954 950",
"944 951 955 948 955 949 947 955 950 947","955 955 949 945 948 955 953 948 946 954","946 947 944 956 951 947 949 952 953 945",
"951 940 953 951 946 953 955 950 948 952","942 953 948 947 953 950 950 946 955 948","953 949 952 954 949 948 952 953 951 951"
];
const jp_p2_206 = [
"953 961 950 947 953 950 955 947 952 948","935 931 940 942 946 953 950 955 945 956","948 955 958 935 957 944 945 951 957 950",
"942 938 934 956 939 951 954 944 949 944","957 962 951 945 948 957 946 953 941 953","938 945 944 951 955 940 956 946 955 950",
"950 932 956 938 942 948 941 957 947 955","944 950 938 953 951 955 950 943 953 944","931 957 947 944 936 945 955 949 944 952",
"955 941 953 957 954 950 944 955 956 947","946 936 941 933 947 939 951 946 948 956","939 959 955 949 943 956 946 951 953 943",
"952 946 936 955 955 947 955 944 946 954","933 940 950 940 938 953 942 956 951 948","948 954 944 952 950 941 951 949 943 951",
"956 949 957 946 945 955 947 954 956 945","936 933 942 935 953 946 955 942 950 957","945 956 949 955 941 951 940 950 945 949",
"951 943 953 942 948 942 953 946 954 952","940 960 935 950 954 954 948 953 949 946","955 938 946 958 944 948 956 944 943 954",
"934 947 955 943 937 940 944 956 955 947","949 952 940 948 952 955 951 949 948 955","943 944 951 936 947 947 956 945 952 944",
"958 958 957 953 955 952 946 954 944 951","937 935 943 945 940 944 953 948 956 955","947 950 952 939 950 956 942 955 947 946",
"952 942 938 954 946 949 954 947 953 953","941 957 948 947 953 943 949 952 950 948","946 939 955 951 939 954 945 944 945 956",
"932 953 944 941 956 946 955 956 954 950","954 944 950 956 948 951 948 950 948 944","939 936 937 944 942 955 952 943 955 953",
"950 955 954 950 954 941 946 954 951 947","944 947 946 937 945 950 955 948 946 955","957 940 941 952 951 956 943 955 954 949",
"936 951 953 946 943 945 950 946 949 952","948 945 939 940 955 953 954 951 955 945","942 958 955 953 947 942 947 955 944 954",
"953 937 945 948 940 952 953 945 952 948","938 949 950 943 953 947 944 953 947 956","946 943 937 955 949 955 956 947 955 951",
"954 956 953 938 944 944 949 954 950 945","940 934 943 951 955 953 954 949 946 953","951 952 949 945 941 948 945 955 953 947",
"945 939 955 954 952 956 952 944 949 955","933 955 942 941 946 943 955 952 955 950","956 946 951 949 953 952 947 948 946 952",
"943 940 945 953 944 950 953 955 951 946","949 953 938 944 950 946 946 950 954 954","937 948 954 950 954 955 952 953 948 949",
"952 944 947 938 939 949 955 946 955 953","946 957 940 955 951 953 948 954 950 947","941 938 952 947 946 944 954 947 953 955",
"955 951 944 943 955 956 950 955 947 951","939 946 956 952 943 951 955 952 955 948","947 942 941 939 952 947 947 945 949 954",
"953 954 953 955 947 955 954 956 953 950","944 941 946 948 955 950 949 951 952 953","950 950 950 951 950 952 951 950 950 952"
];

// ---- page layout ----
const FONT = "'DejaVu Sans', Verdana, sans-serif";
const SERIF = "'Liberation Serif', 'DejaVu Serif', serif";
const INK = "#1e1e1e";
const AXIS_INK = "#333";
const GRID = "#d9e1e1";
const PH = 162;               // panel height
const swissCols = [210, 435], swissW = 212;
const japanCols = [734, 959], japanW = 213;

const sections = [
  { swiss: [ch_p1_05, ch_p1_10, ch_p1_25, ch_p1_51, ch_p1_99, ch_p1_206],
    japan: [jp_p1_05, jp_p1_10, jp_p1_25, jp_p1_51, jp_p1_99, jp_p1_206],
    swissTops: [94, 281, 467], japanTops: [97, 283, 469],
    titleY: 42, headY: 82, swissHeadX: 425, japanHeadX: 889, sub: "1", barSub: "n", icSub: "N", tail: 15 },
  { swiss: [ch_p2_05, ch_p2_10, ch_p2_25, ch_p2_51, ch_p2_99, ch_p2_206],
    japan: [jp_p2_05, jp_p2_10, jp_p2_25, jp_p2_51, jp_p2_99, jp_p2_206],
    swissTops: [789, 975, 1161], japanTops: [791, 977, 1163],
    titleY: 733, headY: 773, swissHeadX: 416, japanHeadX: 890, sub: "2", barSub: "N", icSub: "n", tail: 21 }
];

const svg = d3.select("#fig");
svg.append("rect").attr("width", 1356).attr("height", 1459).attr("fill", "#fff");

// outer frame (open at the bottom, left edge runs to the page foot)
svg.append("path")
  .attr("d", "M8,1459 L8,6 L1344,6 L1344,1388")
  .attr("fill", "none").attr("stroke", "#707070").attr("stroke-width", 1.4);

const parseRows = rows => rows.map(r => r.split(" ").map(v => +v / 10));

function styleAxis(sel) {
  sel.select(".domain").remove();
  sel.attr("font-family", FONT).attr("font-size", 16);
  sel.selectAll(".tick line").attr("stroke", AXIS_INK).attr("stroke-width", 1);
  sel.selectAll(".tick text").attr("fill", AXIS_INK);
}

function drawPanel(px, py, w, series, label, firstCol, bottomLeft, lineColor, lineWidth) {
  const g = svg.append("g").attr("transform", `translate(${px},${py})`);
  const xs = d3.scaleLog().base(2).domain([2, 32]).range([0, w]);
  const ys = d3.scaleLinear().domain([92, 98]).range([PH, 0]);

  // grid
  g.append("g").selectAll("line").data(nTicks.slice(1, -1)).join("line")
    .attr("x1", d => xs(d)).attr("x2", d => xs(d)).attr("y1", 0).attr("y2", PH)
    .attr("stroke", GRID).attr("stroke-width", 1);
  g.append("g").selectAll("line").data(yTicks.slice(1, -1)).join("line")
    .attr("x1", 0).attr("x2", w).attr("y1", d => ys(d)).attr("y2", d => ys(d))
    .attr("stroke", GRID).attr("stroke-width", 1);

  // site curves
  const line = d3.line().x((d, i) => xs(nTicks[i])).y(d => ys(d));
  g.append("g").selectAll("path").data(series).join("path")
    .attr("d", line).attr("fill", "none")
    .attr("stroke", lineColor).attr("stroke-width", lineWidth)
    .attr("stroke-linejoin", "round");

  // 95 % reference
  g.append("line").attr("x1", 0).attr("x2", w)
    .attr("y1", ys(targetLevel)).attr("y2", ys(targetLevel))
    .attr("stroke", "#1a1a1a").attr("stroke-width", 1.3).attr("stroke-dasharray", "4,3");

  // inward ticks on all four sides
  g.append("g").attr("transform", `translate(0,${PH})`)
    .call(d3.axisBottom(xs).tickValues(nTicks).tickSize(-4).tickPadding(8)
      .tickFormat(bottomLeft ? d3.format("d") : () => ""))
    .call(styleAxis);
  g.append("g")
    .call(d3.axisTop(xs).tickValues(nTicks).tickSize(-4).tickFormat(() => ""))
    .call(styleAxis);
  g.append("g")
    .call(d3.axisLeft(ys).tickValues(yTicks).tickSize(-4).tickPadding(5)
      .tickFormat(firstCol ? d3.format("d") : () => ""))
    .call(styleAxis);
  g.append("g").attr("transform", `translate(${w},0)`)
    .call(d3.axisRight(ys).tickValues(yTicks).tickSize(-4).tickFormat(() => ""))
    .call(styleAxis);

  // box
  g.append("rect").attr("x", 0.5).attr("y", 0.5).attr("width", w).attr("height", PH)
    .attr("fill", "none").attr("stroke", "#3a3a3a").attr("stroke-width", 1.1);

  // frequency label
  g.append("text").attr("x", 22).attr("y", 23)
    .attr("font-family", FONT).attr("font-size", 18).attr("fill", INK).text(label);

  if (bottomLeft) {
    g.append("text").attr("x", w / 2).attr("y", PH + 42).attr("text-anchor", "middle")
      .attr("font-family", FONT).attr("font-size", 18).attr("fill", AXIS_INK)
      .text("n (number of EQ)");
  }
}

// title made of sans and math pieces laid end to end
function drawTitle(sec) {
  const g = svg.append("g");
  const pieces = [
    { t: "P", size: 24 },
    { t: sec.sub, size: 16, dy: 5 },
    { t: ": proportion of", size: 24, gap: 8 },
    { t: "x", size: 27, serif: true, italic: true, bar: true },
    { t: sec.barSub, size: 17, serif: true, italic: true, dy: 5, bar: true, gap: 7 },
    { t: "\u2282", size: 22, gap: 7 },
    { t: "Ic", size: 27, serif: true, italic: true },
    { t: "95", size: 17, serif: true, dy: 5 },
    { t: sec.icSub, size: 17, serif: true, italic: true, dy: 5, gap: sec.tail },
    { t: "(%)", size: 24 }
  ];
  let cursor = 0, barStart = null, barEnd = 0;
  pieces.forEach(p => {
    const t = g.append("text").attr("x", cursor).attr("y", sec.titleY + (p.dy || 0))
      .attr("font-family", p.serif ? SERIF : FONT)
      .attr("font-style", p.italic ? "italic" : "normal")
      .attr("font-size", p.size).attr("fill", INK).text(p.t);
    const w = t.node().getComputedTextLength();
    if (p.bar) { if (barStart === null) barStart = cursor; barEnd = cursor + w; }
    cursor += w + (p.gap || 0);
  });
  g.append("line").attr("x1", barStart + 1).attr("x2", barEnd + 1)
    .attr("y1", sec.titleY - 19).attr("y2", sec.titleY - 19)
    .attr("stroke", INK).attr("stroke-width", 1.2);
  g.attr("transform", `translate(${671 - cursor / 2},0)`);
}

sections.forEach(sec => {
  drawTitle(sec);
  svg.append("text").attr("x", sec.swissHeadX).attr("y", sec.headY).attr("text-anchor", "middle")
    .attr("font-family", FONT).attr("font-size", 25).attr("fill", INK).text("Switzerland");
  svg.append("text").attr("x", sec.japanHeadX).attr("y", sec.headY)
    .attr("font-family", FONT).attr("font-size", 25).attr("fill", INK).text("Japan");

  freqLabels.forEach((lab, k) => {
    const row = Math.floor(k / 2), col = k % 2;
    drawPanel(swissCols[col], sec.swissTops[row], swissW, sec.swiss[k], lab,
      col === 0, row === 2 && col === 0, "#9f9f9f", 1.1);
    drawPanel(japanCols[col], sec.japanTops[row], japanW, parseRows(sec.japan[k]), lab,
      col === 0, row === 2 && col === 0, "#a6a6a6", 0.9);
  });
});

// caption
const CAP = "'Liberation Sans Narrow', 'Liberation Sans', Arial, sans-serif";
const cap = svg.append("g");
const l1 = cap.append("text").attr("x", 0).attr("y", 0)
  .attr("font-family", CAP).attr("font-size", 16.5).attr("fill", "#1a1a1a");
l1.append("tspan").attr("font-weight", "bold").text("FIGURE 8 | ");
l1.append("tspan").text("Evaluation of P1 and P2 as a function of the number of events ");
l1.append("tspan").attr("font-weight", "bold").attr("font-style", "italic").text("n");
l1.append("tspan").text(" at 6 frequencies (0.5, 1.0, 2.5, 5.1, 9.9, and 20.6 Hz) for three Swiss sites and 60");
cap.append("text").attr("x", 0).attr("y", 26)
  .attr("font-family", CAP).attr("font-size", 16.5).attr("fill", "#1a1a1a")
  .text("Japanese sites.");
const sx = 1279 / l1.node().getComputedTextLength();
cap.attr("transform", `translate(18,1416) scale(${sx},1)`);
</script>
</body>
</html>
